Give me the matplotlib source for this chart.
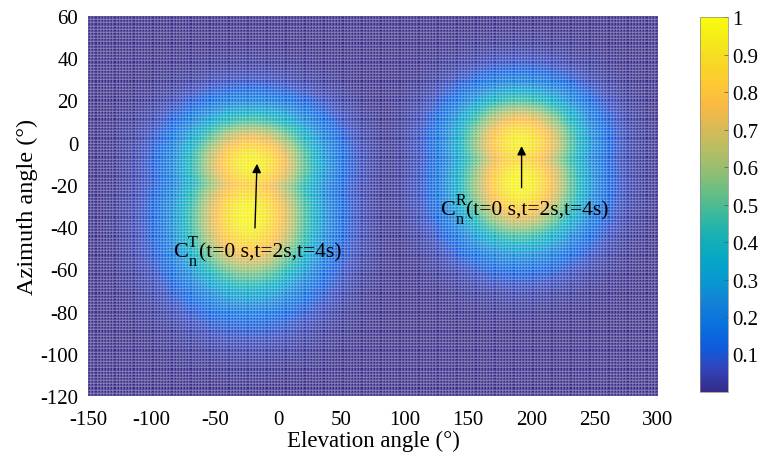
import numpy as np
import matplotlib
matplotlib.use("Agg")
import matplotlib.pyplot as plt
from matplotlib.colors import LinearSegmentedColormap

plt.rcParams.update({
    "font.family": "serif", "font.serif": ["Liberation Serif", "DejaVu Serif"],
    "axes.unicode_minus": False, "font.size": 12})

# parula (MATLAB R2014a) anchors
PARULA = [(0.2081, 0.1663, 0.5292), (0.1959, 0.2645, 0.7279), (0.0591, 0.3598, 0.8683),
          (0.0329, 0.4430, 0.8720), (0.0779, 0.5040, 0.8384), (0.0343, 0.5966, 0.8199),
          (0.0228, 0.6535, 0.7768), (0.0843, 0.6928, 0.7062), (0.2178, 0.7250, 0.6193),
          (0.3953, 0.7459, 0.5244), (0.5709, 0.7485, 0.4494), (0.7184, 0.7411, 0.3905),
          (0.8507, 0.7299, 0.3360), (0.9739, 0.7314, 0.2666), (0.9955, 0.7861, 0.1967),
          (0.9697, 0.8481, 0.1475), (0.9598, 0.9218, 0.0948), (0.9763, 0.9831, 0.0538)]
cmap = LinearSegmentedColormap.from_list("parula", PARULA, N=256)

# beam lobes: centre (elevation, azimuth), spreads, peak
t_elev = [-21, -23]; t_azim = [-10, -35]
t_sig_el = [37, 37]; t_sig_az = [17.5, 25]; t_peak = [0.96, 0.98]
r_elev = [191, 191]; r_azim = [0, -19]
r_sig_el = [35, 35]; r_sig_az = [17, 21]; r_peak = [0.95, 0.98]

elev = np.arange(-150, 300.01, 2.5)
azim = np.arange(-120, 60.01, 1.5)
ec = 0.5 * (elev[1:] + elev[:-1]); ac = 0.5 * (azim[1:] + azim[:-1])
E, A = np.meshgrid(ec, ac)
Z = np.zeros_like(E)
for el, az, se, sa, pk in zip(t_elev + r_elev, t_azim + r_azim, t_sig_el + r_sig_el,
                              t_sig_az + r_sig_az, t_peak + r_peak):
    Z = np.maximum(Z, pk * np.exp(-(E - el) ** 2 / (2 * se ** 2) - (A - az) ** 2 / (2 * sa ** 2)))

fig = plt.figure(figsize=(7.6, 4.6), dpi=100)
ax = fig.add_axes([0.1158, 0.137, 0.75, 0.826])
mesh = ax.pcolormesh(elev, azim, Z, cmap=cmap, vmin=0, vmax=1,
                     edgecolors=(1, 1, 1, 0.16), linewidth=0.35)
ax.set_xlim(-150, 300); ax.set_ylim(-120, 60)
ax.set_xticks(np.arange(-150, 301, 50)); ax.set_yticks(np.arange(-120, 61, 20))
ax.tick_params(axis="x", direction="in", length=0, labelsize=15, pad=10)
ax.tick_params(axis="y", direction="in", length=0, labelsize=15, pad=7)
for s in ax.spines.values():
    s.set_visible(False)
ax.set_xlabel("Elevation angle (\u00b0)", fontsize=16.5, labelpad=1)
ax.set_ylabel("Azimuth angle (\u00b0)", fontsize=17.5, labelpad=2)

arr = dict(arrowstyle="-|>", color="k", lw=1.0, mutation_scale=13, shrinkA=0, shrinkB=0)
ax.annotate("", xy=(-16.6, -10), xytext=(-18.2, -40.4), arrowprops=arr)
ax.annotate("", xy=(192.3, -1.6), xytext=(192.3, -21.3), arrowprops=arr)


def label(x, y, sup):
    # C_n^X(...) built MATLAB-tex style: stacked sub/superscript after C
    kw = dict(textcoords="offset points", va="baseline", ha="left")
    ax.annotate("C", (x, y), xytext=(0, 0), fontsize=16, **kw)
    ax.annotate(sup, (x, y), xytext=(11.0, 7.5), fontsize=11.5, **kw)
    ax.annotate("n", (x, y), xytext=(11.0, -6.5), fontsize=11.5, **kw)
    ax.annotate("(t=0 s,t=2s,t=4s)", (x, y), xytext=(19.0, 0), fontsize=15.5, **kw)


label(-83, -53.7, "T")
label(127.8, -33.8, "R")

cax = fig.add_axes([0.921, 0.1457, 0.0368, 0.815])
cb = fig.colorbar(mesh, cax=cax, ticks=[0.1, 0.2, 0.3, 0.4, 0.5, 0.6, 0.7, 0.8, 0.9, 1])
cb.ax.set_yticklabels(["0.1", "0.2", "0.3", "0.4", "0.5", "0.6", "0.7", "0.8", "0.9", "1"])
cb.ax.tick_params(direction="in", length=3, width=0.5, labelsize=15, color="#555555", pad=3)
cb.outline.set_linewidth(0.5); cb.outline.set_edgecolor("#888888")

fig.savefig("out.png", dpi=100)
